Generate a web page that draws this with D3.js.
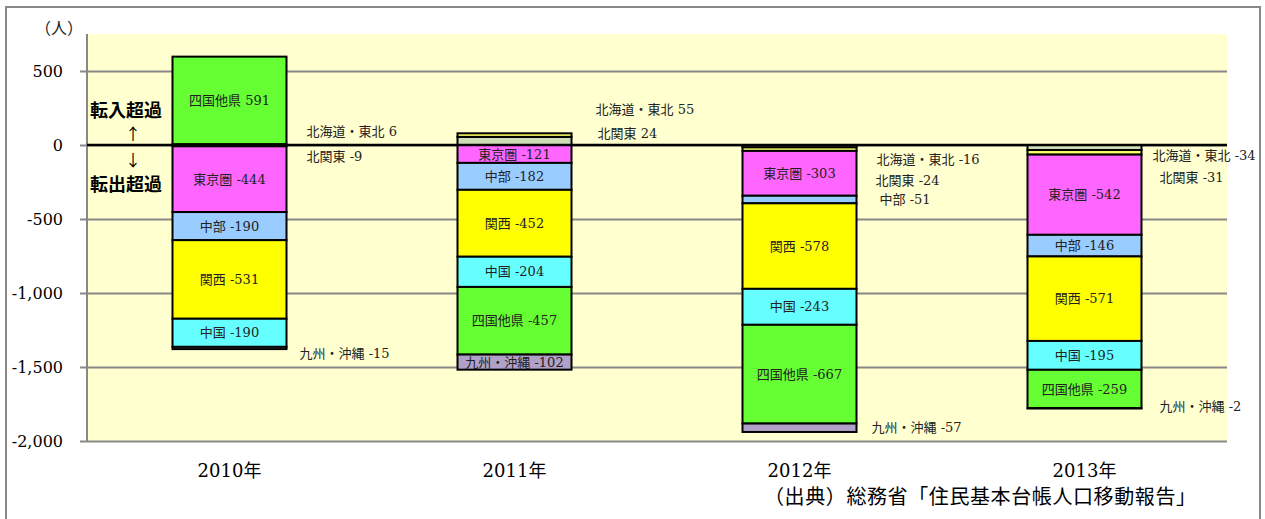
<!DOCTYPE html>
<html>
<head>
<meta charset="utf-8">
<script src="https://cdn.jsdelivr.net/npm/d3@7"></script>
<style>
  body { margin: 0; background: #fff; }
  text { font-family: "DejaVu Serif", "Noto Sans CJK JP", serif; }
</style>
</head>
<body>
<script>
const w = 1265;
const h = 519;

// data
const years = ["2010年", "2011年", "2012年", "2013年"];
const regions = ["北海道・東北", "北関東", "東京圏", "中部", "関西", "中国", "四国他県", "九州・沖縄"];
const hokkaidoTohoku = [6, 55, -16, -34];
const kitaKanto = [-9, 24, -24, -31];
const tokyoArea = [-444, -121, -303, -542];
const chubu = [-190, -182, -51, -146];
const kansai = [-531, -452, -578, -571];
const chugoku = [-190, -204, -243, -195];
const shikokuOther = [591, -457, -667, -259];
const kyushuOkinawa = [-15, -102, -57, -2];
const yTicks = [500, 0, -500, -1000, -1500, -2000];

const seriesValues = [hokkaidoTohoku, kitaKanto, tokyoArea, chubu, kansai, chugoku, shikokuOther, kyushuOkinawa];
const colours = ["#cfdcb8", "#ffff66", "#ff66ff", "#99ccff", "#ffff00", "#66ffff", "#66ff33", "#b1a0c7"];

// small segments get their label beside the bar: [year index, region index, dx, dy]
const outsideLabels = [
  [0, 0, 20, -13], [0, 1, 20, 11], [0, 7, 13, 5],
  [1, 0, 24, -31], [1, 1, 26, -2],
  [2, 0, 20, 13], [2, 1, 19, 31], [2, 3, 23, 0], [2, 7, 15, 0],
  [3, 0, 11, 8], [3, 1, 18, 25], [3, 7, 18, -2]
];

const table = years.map((y, i) => {
  const row = { year: y };
  regions.forEach((r, j) => row[r] = seriesValues[j][i]);
  return row;
});

const plot = { left: 87, right: 1227, top: 34, bottom: 441 };

const svg = d3.select("body").append("svg")
  .attr("width", w)
  .attr("height", h);

// outer frame
svg.append("rect")
  .attr("x", 6).attr("y", 7)
  .attr("width", 1254).attr("height", 530)
  .attr("fill", "#fff")
  .attr("stroke", "#888")
  .attr("stroke-width", 2);

const x = d3.scaleBand()
  .domain(years)
  .range([plot.left, plot.right])
  .paddingInner(0.6)
  .paddingOuter(0.3);

const y = d3.scaleLinear()
  .domain([-2000, 750])
  .range([plot.bottom, plot.top]);

svg.append("rect")
  .attr("x", plot.left).attr("y", plot.top)
  .attr("width", plot.right - plot.left)
  .attr("height", plot.bottom - plot.top)
  .attr("fill", "#ffffd0");

// gridlines + ticks
const yAxis = svg.append("g")
  .attr("transform", "translate(" + plot.left + ",0)")
  .call(d3.axisLeft(y)
    .tickValues(yTicks)
    .tickSize(-(plot.right - plot.left))
    .tickPadding(24)
    .tickFormat(d => d3.format(",")(d).replace("−", "-")));
yAxis.select(".domain").remove();
yAxis.selectAll(".tick line")
  .attr("x1", -7)
  .attr("stroke", "#888")
  .attr("stroke-width", 2);
yAxis.selectAll(".tick text")
  .attr("fill", "#000")
  .style("font-size", "16px");

svg.append("line")
  .attr("x1", plot.left).attr("x2", plot.left)
  .attr("y1", plot.top).attr("y2", plot.bottom)
  .attr("stroke", "#888")
  .attr("stroke-width", 2);

const stack = d3.stack()
  .keys(regions)
  .offset(d3.stackOffsetDiverging);
const layers = stack(table);

layers.forEach((layer, j) => {
  svg.append("g").selectAll("rect")
    .data(layer)
    .enter()
    .append("rect")
    .attr("x", d => x(d.data.year))
    .attr("width", x.bandwidth())
    .attr("y", d => y(Math.max(d[0], d[1])))
    .attr("height", d => Math.abs(y(d[0]) - y(d[1])))
    .attr("fill", colours[j])
    .attr("stroke", "#000")
    .attr("stroke-width", 2);
});

// zero line
svg.append("line")
  .attr("x1", plot.left).attr("x2", plot.right)
  .attr("y1", y(0)).attr("y2", y(0))
  .attr("stroke", "#000")
  .attr("stroke-width", 2.5);

const labelText = (j, i) => regions[j] + " " + seriesValues[j][i];
const segMid = (j, i) => { const d = layers[j][i]; return y((d[0] + d[1]) / 2); };

// labels inside the bigger segments
layers.forEach((layer, j) => {
  layer.forEach((d, i) => {
    if (Math.abs(seriesValues[j][i]) < 100) return;
    svg.append("text")
      .attr("x", x(d.data.year) + x.bandwidth() / 2)
      .attr("y", segMid(j, i))
      .attr("dy", "0.35em")
      .attr("text-anchor", "middle")
      .attr("fill", "#222")
      .style("font-size", "13px")
      .text(labelText(j, i));
  });
});

// labels beside the bar
svg.selectAll(".outLabel")
  .data(outsideLabels)
  .enter()
  .append("text")
  .attr("class", "outLabel")
  .attr("x", d => x(years[d[0]]) + x.bandwidth() + d[2])
  .attr("y", d => segMid(d[1], d[0]) + d[3])
  .attr("dy", "0.35em")
  .attr("fill", "#222")
  .style("font-size", "13px")
  .text(d => labelText(d[1], d[0]));

// year labels
svg.selectAll(".yearLabel")
  .data(years)
  .enter()
  .append("text")
  .attr("class", "yearLabel")
  .attr("x", d => x(d) + x.bandwidth() / 2)
  .attr("y", 477)
  .attr("text-anchor", "middle")
  .style("font-size", "18px")
  .text(d => d);

svg.append("text")
  .attr("x", 35).attr("y", 34)
  .style("font-size", "16px")
  .attr("fill", "#222")
  .text("（人）");

const gothic = '"Noto Sans CJK JP", sans-serif';
svg.append("text")
  .attr("x", 90).attr("y", 117)
  .style("font-family", gothic)
  .style("font-weight", "bold")
  .style("font-size", "18px")
  .text("転入超過");
svg.append("text")
  .attr("x", 90).attr("y", 191)
  .style("font-family", gothic)
  .style("font-weight", "bold")
  .style("font-size", "18px")
  .text("転出超過");
svg.append("text")
  .attr("x", 133).attr("y", 140)
  .attr("text-anchor", "middle")
  .style("font-family", gothic)
  .style("font-size", "16px")
  .text("↑");
svg.append("text")
  .attr("x", 133).attr("y", 166)
  .attr("text-anchor", "middle")
  .style("font-family", gothic)
  .style("font-size", "16px")
  .text("↓");

svg.append("text")
  .attr("x", 764).attr("y", 504)
  .style("font-size", "20px")
  .style("letter-spacing", "0.6px")
  .text("（出典）総務省「住民基本台帳人口移動報告」");
</script>
</body>
</html>
